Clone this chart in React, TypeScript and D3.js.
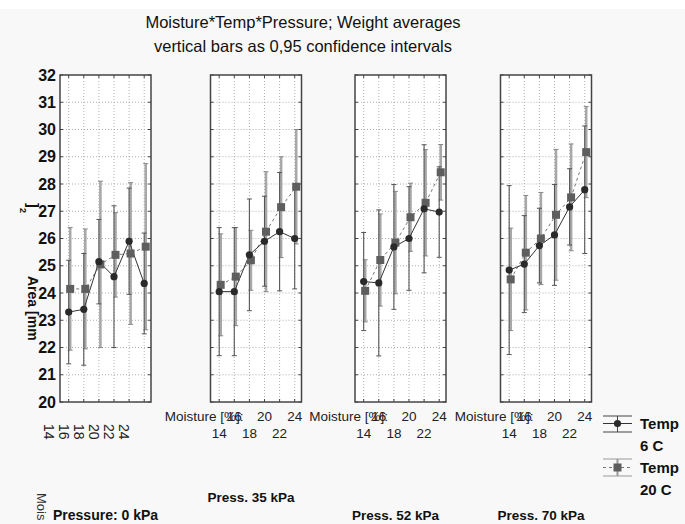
import * as d3 from 'd3'

const W = 685
const H = 524
const FONT = "Arial, 'Liberation Sans', sans-serif"

const moisture = [14, 16, 18, 20, 22, 24]
const yTicks = [20, 21, 22, 23, 24, 25, 26, 27, 28, 29, 30, 31, 32]
const pressureLabels = ['Pressure: 0 kPa', 'Press. 35 kPa', 'Press. 52 kPa', 'Press. 70 kPa']

// Temp 6 C (circles) means and CI half-widths, by pressure
const t6P0 = [23.3, 23.4, 25.15, 24.6, 25.9, 24.35]
const t6P0Ci = [1.9, 2.05, 1.55, 2.6, 1.95, 1.85]
const t6P35 = [24.05, 24.05, 25.4, 25.9, 26.25, 26.0]
const t6P35Ci = [2.35, 2.35, 2.05, 1.65, 2.17, 1.85]
const t6P52 = [24.42, 24.37, 25.69, 26.0, 27.09, 26.97]
const t6P52Ci = [1.8, 2.68, 2.29, 1.9, 2.35, 1.66]
const t6P70 = [24.84, 25.06, 25.74, 26.13, 27.16, 27.79]
const t6P70Ci = [3.1, 1.78, 1.37, 1.85, 1.4, 2.34]

// Temp 20 C (squares)
const t20P0 = [24.15, 24.15, 25.05, 25.4, 25.45, 25.7]
const t20P0Ci = [2.25, 2.2, 3.05, 1.55, 2.6, 3.05]
const t20P35 = [24.3, 24.6, 25.2, 26.25, 27.15, 27.9]
const t20P35Ci = [1.87, 1.8, 1.1, 2.2, 1.85, 2.1]
const t20P52 = [24.08, 25.21, 25.85, 26.78, 27.31, 28.43]
const t20P52Ci = [1.14, 1.69, 1.88, 1.25, 1.95, 1.02]
const t20P70 = [24.5, 25.48, 26.0, 26.87, 27.51, 29.17]
const t20P70Ci = [1.88, 2.1, 1.69, 2.4, 1.96, 1.67]

const panels = [
  { label: pressureLabels[0], t6: t6P0, t6Ci: t6P0Ci, t20: t20P0, t20Ci: t20P0Ci },
  { label: pressureLabels[1], t6: t6P35, t6Ci: t6P35Ci, t20: t20P35, t20Ci: t20P35Ci },
  { label: pressureLabels[2], t6: t6P52, t6Ci: t6P52Ci, t20: t20P52, t20Ci: t20P52Ci },
  { label: pressureLabels[3], t6: t6P70, t6Ci: t6P70Ci, t20: t20P70, t20Ci: t20P70Ci },
]

const PANEL_LEFT = [60, 210.5, 355, 500.5]
const PANEL_W = 91
const PLOT_TOP = 75
const PLOT_BOT = 402
const LABEL_Y = [520, 502, 520, 520]

const yScale = d3.scaleLinear().domain([20, 32]).range([PLOT_BOT, PLOT_TOP])

function Panel({ idx }: { idx: number }) {
  const p = panels[idx]
  const left = PANEL_LEFT[idx]
  const x = d3.scaleLinear().domain([12.85, 24.9]).range([left, left + PANEL_W])
  const line6 = d3.line<number>().x((_, i) => x(moisture[i])).y(d => yScale(d))
  const off = 1.5
  const line20 = d3.line<number>().x((_, i) => x(moisture[i]) + off).y(d => yScale(d))
  const cap = 2.5

  return (
    <g>
      <rect x={left} y={PLOT_TOP} width={PANEL_W} height={PLOT_BOT - PLOT_TOP} fill="#fff" />
      {/* grid */}
      {yTicks.slice(1, -1).map(t => (
        <line key={`gy${t}`} x1={left} x2={left + PANEL_W} y1={yScale(t)} y2={yScale(t)}
          stroke="#9a9a9a" strokeWidth={0.8} strokeDasharray="1,2" />
      ))}
      {moisture.map(m => (
        <line key={`gx${m}`} x1={x(m)} x2={x(m)} y1={PLOT_TOP} y2={PLOT_BOT}
          stroke="#9a9a9a" strokeWidth={0.8} strokeDasharray="1,2" />
      ))}
      {/* ticks */}
      {yTicks.map(t => (
        <g key={`ty${t}`}>
          <line x1={left} x2={left + 3} y1={yScale(t)} y2={yScale(t)} stroke="#444" />
          <line x1={left + PANEL_W - 3} x2={left + PANEL_W} y1={yScale(t)} y2={yScale(t)} stroke="#444" />
        </g>
      ))}
      {moisture.map(m => (
        <g key={`tx${m}`}>
          <line x1={x(m)} x2={x(m)} y1={PLOT_TOP} y2={PLOT_TOP + 3} stroke="#444" />
          <line x1={x(m)} x2={x(m)} y1={PLOT_BOT - 3} y2={PLOT_BOT} stroke="#444" />
        </g>
      ))}
      {/* error bars, 20 C */}
      {p.t20.map((v, i) => {
        const cx = x(moisture[i]) + off
        const lo = yScale(v - p.t20Ci[i])
        const hi = yScale(v + p.t20Ci[i])
        return (
          <g key={`e20${i}`}>
            <line x1={cx} x2={cx} y1={lo} y2={hi} stroke="#a8a8a8" strokeWidth={2.6} />
            <line x1={cx - cap} x2={cx + cap} y1={lo} y2={lo} stroke="#888" strokeWidth={1} />
            <line x1={cx - cap} x2={cx + cap} y1={hi} y2={hi} stroke="#888" strokeWidth={1} />
          </g>
        )
      })}
      {/* error bars, 6 C */}
      {p.t6.map((v, i) => {
        const cx = x(moisture[i])
        const lo = yScale(v - p.t6Ci[i])
        const hi = yScale(v + p.t6Ci[i])
        return (
          <g key={`e6${i}`}>
            <line x1={cx} x2={cx} y1={lo} y2={hi} stroke="#555" strokeWidth={1.1} />
            <line x1={cx - cap} x2={cx + cap} y1={lo} y2={lo} stroke="#555" strokeWidth={1} />
            <line x1={cx - cap} x2={cx + cap} y1={hi} y2={hi} stroke="#555" strokeWidth={1} />
          </g>
        )
      })}
      {/* lines */}
      <path d={line20(p.t20) ?? ''} fill="none" stroke="#777" strokeWidth={1} strokeDasharray="3,3" />
      <path d={line6(p.t6) ?? ''} fill="none" stroke="#333" strokeWidth={1} />
      {/* markers */}
      {p.t20.map((v, i) => (
        <rect key={`s${i}`} x={x(moisture[i]) + off - 4} y={yScale(v) - 4} width={8} height={8} fill="#5e5e5e" />
      ))}
      {p.t6.map((v, i) => (
        <circle key={`c${i}`} cx={x(moisture[i])} cy={yScale(v)} r={3.6} fill="#2a2a2a" />
      ))}
      {/* frame */}
      <rect x={left} y={PLOT_TOP} width={PANEL_W} height={PLOT_BOT - PLOT_TOP} fill="none" stroke="#444" strokeWidth={1.5} />

      {/* x labels */}
      {idx === 0
        ? moisture.map(m => (
            <text key={`xl${m}`} transform={`translate(${x(m) - 20},${424}) rotate(90)`}
              fontSize={14} fontFamily={FONT} fill="#222" dy="0.35em">{m}</text>
          ))
        : (
          <g fontFamily={FONT} fontSize={13.5} fill="#222">
            <text x={left + 33} y={421} textAnchor="end">Moisture [%]:</text>
            {moisture.map((m, i) => (
              <text key={`xl${m}`} x={x(m)} y={i % 2 === 0 ? 438 : 421} textAnchor="middle">{m}</text>
            ))}
          </g>
        )}
      <text x={idx === 0 ? 53 : left - 3} y={LABEL_Y[idx]} fontFamily={FONT} fontSize={idx === 0 ? 14 : 13.5}
        fontWeight="bold" fill="#111">{p.label}</text>
    </g>
  )
}

export default function App() {
  return (
    <svg width={W} height={H} style={{ position: 'absolute', left: 0, top: 0, background: '#fff' }}>
      <rect x={0} y={9} width={W} height={H - 9} fill="#f8f8f8" />
      <g fontFamily={FONT} fontSize={16.5} fill="#111" textAnchor="middle">
        <text x={303} y={28}>Moisture*Temp*Pressure; Weight averages</text>
        <text x={303} y={52}>vertical bars as 0,95 confidence intervals</text>
      </g>
      {/* y axis labels */}
      {yTicks.map(t => (
        <text key={t} x={56} y={yScale(t)} dy="0.35em" textAnchor="end" fontFamily={FONT}
          fontSize={16} fontWeight="bold" fill="#111">{t}</text>
      ))}
      <text transform="translate(28,276) rotate(90)" fontFamily={FONT} fontSize={14} fontWeight="bold" fill="#111">Area [mm</text>
      <text transform="translate(28,203) rotate(90)" fontFamily={FONT} fontSize={14} fontWeight="bold" fill="#111">]</text>
      <text transform="translate(20,208) rotate(90)" fontFamily={FONT} fontSize={9} fontWeight="bold" fill="#111">2</text>
      <text transform="translate(37,493) rotate(90)" fontFamily={FONT} fontSize={13} fill="#333">Mois</text>

      {panels.map((_, i) => <Panel key={i} idx={i} />)}

      {/* legend */}
      <g>
        <line x1={603} x2={632} y1={416} y2={416} stroke="#444" />
        <line x1={603} x2={632} y1={432} y2={432} stroke="#444" />
        <line x1={617.5} x2={617.5} y1={416} y2={432} stroke="#444" />
        <line x1={603} x2={632} y1={423.5} y2={423.5} stroke="#333" />
        <circle cx={617.5} cy={423.5} r={3.6} fill="#2a2a2a" />
        <line x1={603} x2={632} y1={459} y2={459} stroke="#999" />
        <line x1={603} x2={632} y1={476} y2={476} stroke="#999" />
        <line x1={617.5} x2={617.5} y1={459} y2={476} stroke="#999" strokeWidth={2} />
        <line x1={603} x2={632} y1={467.5} y2={467.5} stroke="#777" strokeDasharray="3,3" />
        <rect x={613.5} y={463.5} width={8} height={8} fill="#5e5e5e" />
        <g fontFamily={FONT} fontSize={15} fontWeight="bold" fill="#111">
          <text x={640} y={429}>Temp</text>
          <text x={640} y={451}>6 C</text>
          <text x={640} y={473}>Temp</text>
          <text x={640} y={495}>20 C</text>
        </g>
      </g>
    </svg>
  )
}
